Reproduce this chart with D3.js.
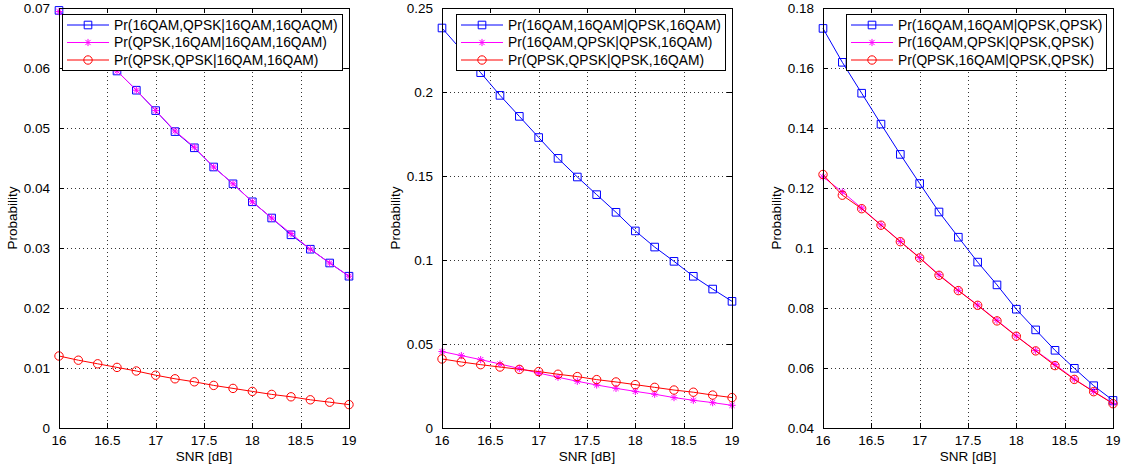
<!DOCTYPE html>
<html>
<head>
<meta charset="utf-8">
<script src="https://cdn.jsdelivr.net/npm/d3@7/dist/d3.min.js"></script>
<style>
  body { margin: 0; background: #fff; }
  text { font-family: "Liberation Sans", Arial, Helvetica, sans-serif; fill: #000; }
</style>
</head>
<body>
<div id="chart"></div>
<script>
// SNR sweep, shared by all three panels
var snr = [16, 16.2, 16.4, 16.6, 16.8, 17, 17.2, 17.4, 17.6, 17.8, 18, 18.2, 18.4, 18.6, 18.8, 19];
var xTicks = [16, 16.5, 17, 17.5, 18, 18.5, 19];

// panel 1 : conditioned on (16QAM,16QAM)
var p1Names = ["Pr(16QAM,QPSK|16QAM,16QAQM)", "Pr(QPSK,16QAM|16QAM,16QAM)", "Pr(QPSK,QPSK|16QAM,16QAM)"];
var p1Blue    = [0.0696, 0.0661, 0.0628, 0.0595, 0.0563, 0.0529, 0.0494, 0.0467, 0.0435, 0.0407, 0.0377, 0.0350, 0.0322, 0.0298, 0.0275, 0.0253];
var p1Magenta = [0.0694, 0.0660, 0.0627, 0.0595, 0.0563, 0.0529, 0.0495, 0.0468, 0.0435, 0.0407, 0.0377, 0.0350, 0.0324, 0.0298, 0.0275, 0.0253];
var p1Red     = [0.0120, 0.0113, 0.0107, 0.0101, 0.0095, 0.0088, 0.0082, 0.0077, 0.0071, 0.0066, 0.0061, 0.0056, 0.0052, 0.0047, 0.0043, 0.0039];
var p1YTicks  = [0, 0.01, 0.02, 0.03, 0.04, 0.05, 0.06, 0.07];

// panel 2 : conditioned on (QPSK,16QAM)
var p2Names = ["Pr(16QAM,16QAM|QPSK,16QAM)", "Pr(16QAM,QPSK|QPSK,16QAM)", "Pr(QPSK,QPSK|QPSK,16QAM)"];
var p2Blue    = [0.2381, 0.2250, 0.2115, 0.1980, 0.1855, 0.1729, 0.1605, 0.1494, 0.1389, 0.1284, 0.1173, 0.1077, 0.0992, 0.0903, 0.0827, 0.0754];
var p2Magenta = [0.0455, 0.0431, 0.0407, 0.0381, 0.0354, 0.0327, 0.0302, 0.0278, 0.0256, 0.0236, 0.0218, 0.0201, 0.0181, 0.0165, 0.0151, 0.0135];
var p2Red     = [0.0411, 0.0393, 0.0377, 0.0363, 0.0349, 0.0336, 0.0320, 0.0306, 0.0288, 0.0274, 0.0258, 0.0242, 0.0226, 0.0213, 0.0196, 0.0181];
var p2YTicks  = [0, 0.05, 0.1, 0.15, 0.2, 0.25];

// panel 3 : conditioned on (QPSK,QPSK)
var p3Names = ["Pr(16QAM,16QAM|QPSK,QPSK)", "Pr(16QAM,QPSK|QPSK,QPSK)", "Pr(QPSK,16QAM|QPSK,QPSK)"];
var p3Blue    = [0.1732, 0.1619, 0.1516, 0.1413, 0.1312, 0.1215, 0.1120, 0.1036, 0.0953, 0.0877, 0.0796, 0.0727, 0.0659, 0.0599, 0.0541, 0.0492];
var p3Magenta = [0.1237, 0.1187, 0.1133, 0.1077, 0.1022, 0.0968, 0.0911, 0.0859, 0.0810, 0.0759, 0.0707, 0.0658, 0.0612, 0.0563, 0.0522, 0.0482];
var p3Red     = [0.1245, 0.1176, 0.1131, 0.1076, 0.1021, 0.0967, 0.0909, 0.0858, 0.0809, 0.0757, 0.0706, 0.0657, 0.0608, 0.0562, 0.0521, 0.0481];
var p3YTicks  = [0.04, 0.06, 0.08, 0.1, 0.12, 0.14, 0.16, 0.18];

function getConfig(){
    let width = 1134, height = 472;
    let plot = {top: 8, h: 420, w: 290};
    plot.lefts = [59, 442, 823];
    plot.fontSize = 13.5;
    plot.legendFont = 13.8;
    plot.colors = ["#0000ff", "#ff00ff", "#ff0000"];
    plot.markers = ["square", "star", "circle"];
    return {width, height, plot};
}

function markerPath(type){
    // all drawn around (0,0)
    if (type == "square") return "M-3.8,-3.8H3.8V3.8H-3.8Z";
    if (type == "circle") return d3.arc()({innerRadius: 0, outerRadius: 4.2, startAngle: 0, endAngle: 2 * Math.PI});
    let r = 3.6, d = 2.6;
    return `M${-r},0H${r}M0,${-r}V${r}M${-d},${-d}L${d},${d}M${-d},${d}L${d},${-d}`;
}

function drawPanel(svg, config, idx, series, names, yTicks){
    let p = config.plot;
    let left = p.lefts[idx], top = p.top;
    let x = d3.scaleLinear().domain([16, 19]).range([left, left + p.w]);
    let y = d3.scaleLinear().domain([yTicks[0], yTicks[yTicks.length - 1]]).range([top + p.h, top]);

    let g = svg.append("g");

    // dotted grid
    g.selectAll(".gx").data(xTicks.slice(1, -1)).join("line")
        .attr("x1", d => Math.round(x(d)) + 0.5).attr("x2", d => Math.round(x(d)) + 0.5)
        .attr("y1", top).attr("y2", top + p.h)
        .attr("stroke", "#333").attr("stroke-dasharray", "1,3");
    g.selectAll(".gy").data(yTicks.slice(1, -1)).join("line")
        .attr("y1", d => Math.round(y(d)) + 0.5).attr("y2", d => Math.round(y(d)) + 0.5)
        .attr("x1", left).attr("x2", left + p.w)
        .attr("stroke", "#333").attr("stroke-dasharray", "1,3");

    // lines + markers
    let line = d3.line().x((d, i) => x(snr[i])).y(d => y(d));
    series.forEach(function(s, k){
        g.append("path").datum(s)
            .attr("d", line)
            .attr("fill", "none")
            .attr("stroke", p.colors[k])
            .attr("stroke-width", 1);
        g.selectAll(".m" + k).data(s).join("path")
            .attr("transform", (d, i) => `translate(${x(snr[i])},${y(d)})`)
            .attr("d", markerPath(p.markers[k]))
            .attr("fill", "none")
            .attr("stroke", p.colors[k])
            .attr("stroke-width", 1);
    });

    // box
    g.append("rect")
        .attr("x", left + 0.5).attr("y", top + 0.5)
        .attr("width", p.w).attr("height", p.h)
        .attr("fill", "none").attr("stroke", "#000").attr("stroke-width", 1);

    // inward ticks on all four sides
    let tl = 5;
    xTicks.forEach(function(t){
        let xx = Math.round(x(t)) + 0.5;
        g.append("line").attr("x1", xx).attr("x2", xx).attr("y1", top + p.h).attr("y2", top + p.h - tl).attr("stroke", "#000");
        g.append("line").attr("x1", xx).attr("x2", xx).attr("y1", top).attr("y2", top + tl).attr("stroke", "#000");
    });
    yTicks.forEach(function(t){
        let yy = Math.round(y(t)) + 0.5;
        g.append("line").attr("y1", yy).attr("y2", yy).attr("x1", left).attr("x2", left + tl).attr("stroke", "#000");
        g.append("line").attr("y1", yy).attr("y2", yy).attr("x1", left + p.w).attr("x2", left + p.w - tl).attr("stroke", "#000");
    });

    // tick labels
    g.selectAll(".xl").data(xTicks).join("text")
        .attr("x", d => x(d)).attr("y", top + p.h + 17)
        .attr("font-size", p.fontSize)
        .attr("text-anchor", "middle")
        .text(d => d);
    g.selectAll(".yl").data(yTicks).join("text")
        .attr("x", left - 9).attr("y", d => y(d))
        .attr("dy", "0.35em")
        .attr("font-size", p.fontSize)
        .attr("text-anchor", "end")
        .text(d => d);

    // axis titles
    g.append("text")
        .attr("x", left + p.w / 2).attr("y", top + p.h + 33)
        .attr("font-size", p.fontSize)
        .attr("text-anchor", "middle")
        .text("SNR [dB]");
    g.append("text")
        .attr("transform", `translate(${left - 42},${top + p.h / 2}) rotate(-90)`)
        .attr("font-size", p.fontSize)
        .attr("text-anchor", "middle")
        .text("Probability");

    // legend, anchored to top right
    let lg = g.append("g");
    let box = lg.append("rect").attr("fill", "#fff").attr("stroke", "#000").attr("stroke-width", 1);
    let rowY = [11, 28.5, 46];
    let texts = [];
    names.forEach(function(n, k){
        texts.push(lg.append("text")
            .attr("y", top + 6 + rowY[k])
            .attr("dy", "0.35em")
            .attr("font-size", p.legendFont)
            .text(n));
    });
    let tw = d3.max(texts, t => t.node().getComputedTextLength());
    let bw = Math.round(tw + 52 + 4);
    let bx = left + p.w - 7 - bw;
    box.attr("x", bx + 0.5).attr("y", top + 6.5).attr("width", bw).attr("height", 56);
    texts.forEach(t => t.attr("x", bx + 52));
    names.forEach(function(n, k){
        let yy = top + 6 + rowY[k];
        lg.append("line").attr("x1", bx + 5).attr("x2", bx + 47).attr("y1", yy).attr("y2", yy)
            .attr("stroke", p.colors[k]);
        lg.append("path").attr("transform", `translate(${bx + 26},${yy})`)
            .attr("d", markerPath(p.markers[k]))
            .attr("fill", "none").attr("stroke", p.colors[k]);
    });
}

function showData(){
    let config = getConfig();
    let svg = d3.select("#chart").append("svg")
        .attr("width", config.width)
        .attr("height", config.height)
        .style("background-color", "#fff");

    drawPanel(svg, config, 0, [p1Blue, p1Magenta, p1Red], p1Names, p1YTicks);
    drawPanel(svg, config, 1, [p2Blue, p2Magenta, p2Red], p2Names, p2YTicks);
    drawPanel(svg, config, 2, [p3Blue, p3Magenta, p3Red], p3Names, p3YTicks);
}

window.addEventListener("load", showData);
</script>
</body>
</html>
